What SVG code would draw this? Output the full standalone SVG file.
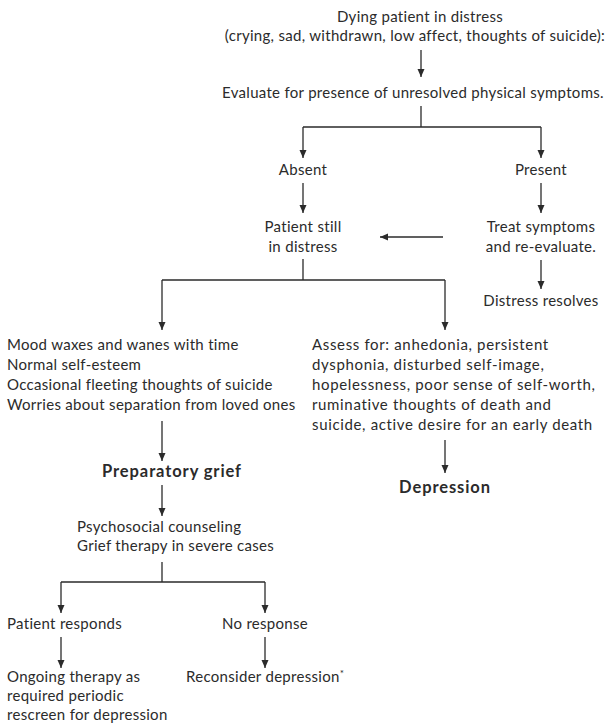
<svg xmlns="http://www.w3.org/2000/svg" width="609" height="726" viewBox="0 0 609 726">
  <style>
    .t { font-family: Lato, "Open Sans", "Liberation Sans", sans-serif; font-size: 15px; letter-spacing: 0.3px; fill: #2b2b2b; }
    .m { text-anchor: middle; }
    .w { letter-spacing: 0.65px; }
    .b { font-weight: bold; font-size: 16.5px; letter-spacing: 0.9px; }
    .c { fill: none; stroke: #2b2b2b; stroke-width: 1.3; }
  </style>
  <defs>
    <marker id="ah" markerUnits="userSpaceOnUse" markerWidth="10" markerHeight="10" refX="8" refY="4" orient="auto">
      <path d="M0,0.5 L8,4 L0,7.5 Z" fill="#2b2b2b"/>
    </marker>
  </defs>
  <rect width="609" height="726" fill="#ffffff"/>

  <!-- connectors -->
  <g id="connectors">
    <path class="c" d="M421,50 V77" marker-end="url(#ah)"/>
    <path class="c" d="M421,106 V127 M303,127 H541"/>
    <path class="c" d="M303,127 V158" marker-end="url(#ah)"/>
    <path class="c" d="M541,127 V158" marker-end="url(#ah)"/>
    <path class="c" d="M303,183 V213" marker-end="url(#ah)"/>
    <path class="c" d="M541,183 V213" marker-end="url(#ah)"/>
    <path class="c" d="M443,237 H380" marker-end="url(#ah)"/>
    <path class="c" d="M541,260 V289" marker-end="url(#ah)"/>
    <path class="c" d="M303,259 V280 M162,280 H445"/>
    <path class="c" d="M162,280 V330" marker-end="url(#ah)"/>
    <path class="c" d="M445,280 V330" marker-end="url(#ah)"/>
    <path class="c" d="M162,421 V461" marker-end="url(#ah)"/>
    <path class="c" d="M445,440 V473" marker-end="url(#ah)"/>
    <path class="c" d="M162,485 V516" marker-end="url(#ah)"/>
    <path class="c" d="M162,562 V582 M61,582 H265"/>
    <path class="c" d="M61,582 V613" marker-end="url(#ah)"/>
    <path class="c" d="M265,582 V613" marker-end="url(#ah)"/>
    <path class="c" d="M61,637 V668" marker-end="url(#ah)"/>
    <path class="c" d="M265,637 V668" marker-end="url(#ah)"/>
  </g>

  <g id="start">
    <text class="t m" x="420" y="22">Dying patient in distress</text>
    <text class="t m" x="415" y="41">(crying, sad, withdrawn, low affect, thoughts of suicide):</text>
  </g>
  <g id="evaluate">
    <text class="t m" x="413" y="98">Evaluate for presence of unresolved physical symptoms.</text>
  </g>
  <g id="absent">
    <text class="t m" x="303" y="175">Absent</text>
  </g>
  <g id="present">
    <text class="t m" x="541" y="175">Present</text>
  </g>
  <g id="still-distress">
    <text class="t m" x="303" y="232">Patient still</text>
    <text class="t m" x="303" y="252">in distress</text>
  </g>
  <g id="treat">
    <text class="t m" x="541" y="232">Treat symptoms</text>
    <text class="t m" x="541" y="252">and re-evaluate.</text>
  </g>
  <g id="resolves">
    <text class="t m" x="541" y="306">Distress resolves</text>
  </g>
  <g id="grief-signs">
    <text class="t" x="7" y="350">Mood waxes and wanes with time</text>
    <text class="t" x="7" y="370">Normal self-esteem</text>
    <text class="t" x="7" y="390">Occasional fleeting thoughts of suicide</text>
    <text class="t" x="7" y="410">Worries about separation from loved ones</text>
  </g>
  <g id="assess">
    <text class="t w" x="312" y="350">Assess for: anhedonia, persistent</text>
    <text class="t w" x="312" y="370">dysphonia, disturbed self-image,</text>
    <text class="t w" x="312" y="390">hopelessness, poor sense of self-worth,</text>
    <text class="t w" x="312" y="410">ruminative thoughts of death and</text>
    <text class="t w" x="312" y="430">suicide, active desire for an early death</text>
  </g>
  <g id="preparatory-grief">
    <text class="t b m" x="172" y="477">Preparatory grief</text>
  </g>
  <g id="depression">
    <text class="t b m" x="445" y="493">Depression</text>
  </g>
  <g id="counseling">
    <text class="t" x="77" y="532">Psychosocial counseling</text>
    <text class="t" x="77" y="551">Grief therapy in severe cases</text>
  </g>
  <g id="responds">
    <text class="t" x="7" y="629">Patient responds</text>
  </g>
  <g id="no-response">
    <text class="t m" x="265" y="629">No response</text>
  </g>
  <g id="ongoing">
    <text class="t" x="7" y="682">Ongoing therapy as</text>
    <text class="t" x="7" y="701">required periodic</text>
    <text class="t" x="7" y="720">rescreen for depression</text>
  </g>
  <g id="reconsider">
    <text class="t" x="186" y="682">Reconsider depression<tspan font-size="10" dy="-5">*</tspan></text>
  </g>
</svg>
